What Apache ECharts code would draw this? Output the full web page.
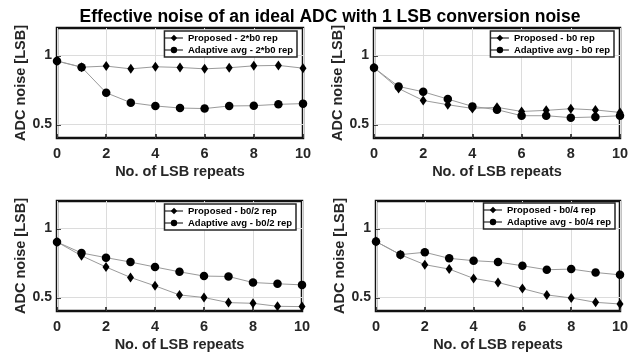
<!DOCTYPE html>
<html><head><meta charset="utf-8">
<script src="https://cdn.jsdelivr.net/npm/echarts@6/dist/echarts.min.js"></script>
<style>html,body{margin:0;padding:0;background:#fff}#c{width:637px;height:360px}</style>
</head><body><div id="c"></div>
<script>
var xs = [0,1,2,3,4,5,6,7,8,9,10];
var prop1 = [0.96,0.915,0.923,0.903,0.918,0.913,0.903,0.911,0.925,0.928,0.908];
var adap1 = [0.96,0.915,0.729,0.657,0.633,0.618,0.614,0.633,0.635,0.645,0.650];
var prop2 = [0.911,0.760,0.673,0.642,0.615,0.623,0.593,0.601,0.613,0.604,0.586];
var adap2 = [0.911,0.775,0.736,0.683,0.630,0.606,0.562,0.562,0.548,0.553,0.562];
var prop3 = [0.902,0.802,0.720,0.644,0.583,0.517,0.498,0.461,0.456,0.434,0.432];
var adap3 = [0.902,0.822,0.788,0.756,0.720,0.685,0.654,0.651,0.607,0.598,0.590];
var prop4 = [0.905,0.810,0.737,0.705,0.637,0.607,0.563,0.517,0.495,0.463,0.451];
var adap4 = [0.905,0.810,0.827,0.783,0.766,0.756,0.729,0.700,0.705,0.680,0.663];
var yTicks = [0.5, 1];
var propNames = ['Proposed - 2*b0 rep','Proposed - b0 rep','Proposed - b0/2 rep','Proposed - b0/4 rep'];
var adapNames = ['Adaptive avg - 2*b0 rep','Adaptive avg - b0 rep','Adaptive avg - b0/2 rep','Adaptive avg - b0/4 rep'];
var title = 'Effective noise of an ideal ADC with 1 LSB conversion noise';
var xLabel = 'No. of LSB repeats';
var yLabel = 'ADC noise [LSB]';

var props = [prop1,prop2,prop3,prop4];
var adaps = [adap1,adap2,adap3,adap4];
var font = '"Liberation Sans",Arial,sans-serif';

var grids = [
  {left:57, right:334, top:28, height:110},
  {left:374, right:17, top:28, height:110},
  {left:57, right:335, top:201, height:110},
  {left:376, right:17, top:201, height:110}
];
var legendPos = [
  {right:340, top:31},
  {right:23, top:31},
  {right:341, top:204},
  {right:22, top:203}
];

function pairs(arr){ return xs.map(function(x,i){ return [x, arr[i]]; }); }

var option = {
  animation:false,
  backgroundColor:'#fff',
  title:{text:title, left:325, textAlign:'center', top:3, textStyle:{fontFamily:font, fontWeight:'bold', fontSize:17.5, color:'#000'}},
  grid:[], xAxis:[], yAxis:[], series:[], legend:[]
};

for (var k=0;k<4;k++){
  var g = grids[k];
  option.grid.push({left:g.left, right:g.right, top:g.top, height:g.height, show:true, borderColor:'#111', borderWidth:2.5, backgroundColor:'#fff', containLabel:false});
  option.xAxis.push({
    type:'value', gridIndex:k, min:0, max:10, interval:2,
    name:xLabel, nameLocation:'middle', nameGap:26,
    nameTextStyle:{fontFamily:font, fontWeight:'bold', fontSize:14.5, color:'#262626'},
    axisLine:{show:false},
    axisTick:{show:true, inside:true, length:4, lineStyle:{color:'#111', width:1.5}},
    axisLabel:{fontFamily:font, fontWeight:'bold', fontSize:14.5, color:'#262626', margin:8},
    splitLine:{show:true, lineStyle:{color:'#dcdcdc', width:1}}
  });
  option.yAxis.push({
    type:'value', gridIndex:k, min:0.4, max:1.2,
    name:yLabel, nameLocation:'middle', nameGap:28,
    nameTextStyle:{fontFamily:font, fontWeight:'bold', fontSize:14.5, color:'#262626'},
    axisLine:{show:false},
    axisTick:{show:true, inside:true, length:4, customValues:yTicks, lineStyle:{color:'#111', width:1.5}},
    axisLabel:{fontFamily:font, fontWeight:'bold', fontSize:14, color:'#262626', margin:5, customValues:yTicks,
      formatter:function(v){ return String(v); }},
    splitLine:{show:false}
  });
  option.series.push({
    type:'line', name:propNames[k], xAxisIndex:k, yAxisIndex:k, data:pairs(props[k]),
    symbol:'diamond', symbolSize:[7,10], itemStyle:{color:'#000'},
    lineStyle:{color:'#9a9a9a', width:1}, z:3,
    markLine:{silent:true, symbol:'none', z:1, label:{show:false},
      lineStyle:{color:'#dcdcdc', width:1, type:'solid'},
      data: yTicks.map(function(v){ return {yAxis:v}; })}
  });
  option.series.push({
    type:'line', name:adapNames[k], xAxisIndex:k, yAxisIndex:k, data:pairs(adaps[k]),
    symbol:'circle', symbolSize:8.5, itemStyle:{color:'#000'},
    lineStyle:{color:'#9a9a9a', width:1}, z:3
  });
  option.legend.push({
    data:[propNames[k], adapNames[k]], orient:'vertical', align:'left',
    right:legendPos[k].right, top:legendPos[k].top,
    backgroundColor:'#fff', borderColor:'#262626', borderWidth:1.5, borderRadius:0,
    padding:[2,4,2,0], itemGap:2, itemWidth:18, itemHeight:8,
    lineStyle:{color:'#000', width:1},
    textStyle:{fontFamily:font, fontWeight:'bold', fontSize:9.5, color:'#000'}
  });
}

var chart = echarts.init(document.getElementById('c'), null, {renderer:'canvas'});
chart.setOption(option);
</script>
</body></html>
